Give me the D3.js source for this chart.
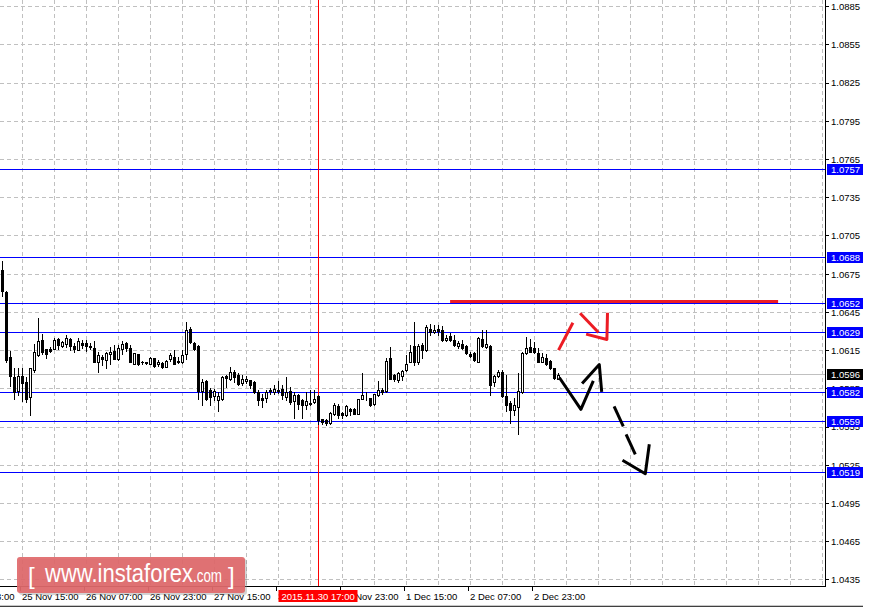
<!DOCTYPE html>
<html>
<head>
<meta charset="utf-8">
<script src="https://cdn.jsdelivr.net/npm/d3@7"></script>
<style>
body { margin: 0; background: #fff; }
svg { display: block; }
text { font-family: "Liberation Sans", Arial, sans-serif; }
</style>
</head>
<body>
<div id="chart"></div>
<script>
let width = 875,
height = 608,
plotW = 825,
plotH = 586;

// hourly bars, first bar = 25 Nov 10:00
let opens = [
1.06784, 1.06608, 1.06097, 1.05944, 1.05831, 1.05952, 1.05905, 1.05787, 1.05997, 1.06115,
1.06233, 1.06160, 1.06160, 1.06164, 1.06238, 1.06188, 1.06204, 1.06238, 1.06185, 1.06154,
1.06207, 1.06207, 1.06185, 1.06167, 1.06057, 1.06097, 1.06075, 1.06120, 1.06148, 1.06083,
1.06162, 1.06207, 1.06167, 1.06049, 1.06122, 1.06062, 1.06060, 1.06049, 1.06089, 1.06044,
1.06054, 1.06023, 1.06081, 1.06097, 1.06070, 1.06057, 1.06120, 1.06319, 1.06211, 1.06185,
1.05834, 1.05910, 1.05839, 1.05792, 1.05764, 1.05774, 1.05949, 1.05931, 1.05983, 1.05957,
1.05897, 1.05910, 1.05918, 1.05905, 1.05826, 1.05779, 1.05782, 1.05831, 1.05826, 1.05839,
1.05850, 1.05787, 1.05831, 1.05752, 1.05800, 1.05761, 1.05727, 1.05735, 1.05747, 1.05792,
1.05611, 1.05603, 1.05585, 1.05651, 1.05716, 1.05659, 1.05644, 1.05695, 1.05695, 1.05656,
1.05774, 1.05792, 1.05779, 1.05735, 1.05800, 1.05839, 1.05831, 1.06089, 1.05957, 1.05923,
1.05952, 1.05997, 1.06062, 1.06185, 1.06062, 1.06193, 1.06154, 1.06319, 1.06293, 1.06319,
1.06311, 1.06230, 1.06267, 1.06233, 1.06188, 1.06201, 1.06188, 1.06120, 1.06128, 1.06062,
1.06241, 1.06180, 1.06188, 1.05900, 1.05952, 1.05983, 1.05794, 1.05742, 1.05687, 1.05708,
1.05826, 1.06128, 1.06180, 1.06167, 1.06128, 1.06062, 1.06093, 1.06067, 1.06010, 1.05931
];
let highs = [
1.06854, 1.06618, 1.06148, 1.06015, 1.06012, 1.06010, 1.05944, 1.06012, 1.06199, 1.06404,
1.06278, 1.06162, 1.06180, 1.06246, 1.06246, 1.06227, 1.06270, 1.06246, 1.06207, 1.06246,
1.06233, 1.06233, 1.06207, 1.06225, 1.06141, 1.06115, 1.06141, 1.06180, 1.06193, 1.06193,
1.06225, 1.06215, 1.06193, 1.06133, 1.06126, 1.06070, 1.06062, 1.06101, 1.06093, 1.06075,
1.06062, 1.06075, 1.06133, 1.06154, 1.06101, 1.06154, 1.06377, 1.06337, 1.06219, 1.06193,
1.05931, 1.05918, 1.05853, 1.05845, 1.05826, 1.05949, 1.05957, 1.06023, 1.05997, 1.05971,
1.05957, 1.05949, 1.05922, 1.05910, 1.05839, 1.05813, 1.05839, 1.05860, 1.05879, 1.05912,
1.05879, 1.05944, 1.05865, 1.05822, 1.05813, 1.05774, 1.05826, 1.05839, 1.05839, 1.05800,
1.05616, 1.05611, 1.05668, 1.05742, 1.05735, 1.05668, 1.05721, 1.05700, 1.05700, 1.05774,
1.05971, 1.05826, 1.05782, 1.05813, 1.05910, 1.05857, 1.06089, 1.06180, 1.05963, 1.05983,
1.05997, 1.06115, 1.06193, 1.06372, 1.06199, 1.06207, 1.06351, 1.06356, 1.06351, 1.06351,
1.06346, 1.06272, 1.06285, 1.06272, 1.06225, 1.06233, 1.06193, 1.06136, 1.06136, 1.06259,
1.06311, 1.06311, 1.06193, 1.05957, 1.05997, 1.05997, 1.05957, 1.05752, 1.05779, 1.05971,
1.06136, 1.06259, 1.06241, 1.06219, 1.06167, 1.06128, 1.06120, 1.06075, 1.06015, 1.05971
];
let lows = [
1.06581, 1.06057, 1.05873, 1.05768, 1.05800, 1.05753, 1.05747, 1.05648, 1.05979, 1.06107,
1.06120, 1.06089, 1.06141, 1.06160, 1.06160, 1.06180, 1.06180, 1.06154, 1.06141, 1.06152,
1.06167, 1.06148, 1.06160, 1.06057, 1.05983, 1.06036, 1.06010, 1.06049, 1.06081, 1.06078,
1.06125, 1.06146, 1.06057, 1.06044, 1.06036, 1.06049, 1.06049, 1.06044, 1.06023, 1.06028,
1.06010, 1.06018, 1.06070, 1.06044, 1.06054, 1.06054, 1.06081, 1.06207, 1.06154, 1.05774,
1.05721, 1.05764, 1.05721, 1.05761, 1.05676, 1.05764, 1.05865, 1.05923, 1.05905, 1.05879,
1.05879, 1.05897, 1.05860, 1.05818, 1.05727, 1.05705, 1.05747, 1.05813, 1.05813, 1.05818,
1.05768, 1.05761, 1.05735, 1.05621, 1.05695, 1.05621, 1.05695, 1.05721, 1.05742, 1.05577,
1.05577, 1.05569, 1.05577, 1.05644, 1.05618, 1.05618, 1.05637, 1.05644, 1.05651, 1.05651,
1.05768, 1.05761, 1.05716, 1.05727, 1.05794, 1.05813, 1.05826, 1.05926, 1.05910, 1.05900,
1.05918, 1.05989, 1.06057, 1.06041, 1.06049, 1.06089, 1.06146, 1.06272, 1.06285, 1.06272,
1.06225, 1.06225, 1.06225, 1.06188, 1.06167, 1.06162, 1.06120, 1.06101, 1.06070, 1.06057,
1.06180, 1.06172, 1.05800, 1.05873, 1.05944, 1.05787, 1.05674, 1.05585, 1.05644, 1.05498,
1.05821, 1.06120, 1.06136, 1.06128, 1.06057, 1.06057, 1.06041, 1.06004, 1.05931, 1.05926
];
let closes = [
1.06621, 1.06075, 1.05952, 1.05826, 1.05952, 1.05897, 1.05774, 1.06010, 1.06136, 1.06225,
1.06141, 1.06125, 1.06148, 1.06233, 1.06193, 1.06219, 1.06246, 1.06188, 1.06160, 1.06225,
1.06193, 1.06188, 1.06182, 1.06062, 1.06115, 1.06083, 1.06128, 1.06136, 1.06083, 1.06167,
1.06199, 1.06172, 1.06062, 1.06128, 1.06044, 1.06060, 1.06056, 1.06093, 1.06028, 1.06062,
1.06018, 1.06070, 1.06115, 1.06049, 1.06057, 1.06115, 1.06311, 1.06219, 1.06160, 1.05834,
1.05905, 1.05774, 1.05787, 1.05834, 1.05792, 1.05944, 1.05936, 1.05979, 1.05944, 1.05886,
1.05931, 1.05931, 1.05879, 1.05826, 1.05761, 1.05764, 1.05826, 1.05839, 1.05847, 1.05834,
1.05798, 1.05822, 1.05747, 1.05800, 1.05735, 1.05727, 1.05752, 1.05737, 1.05774, 1.05603,
1.05590, 1.05582, 1.05664, 1.05721, 1.05644, 1.05644, 1.05714, 1.05674, 1.05656, 1.05768,
1.05800, 1.05792, 1.05727, 1.05808, 1.05839, 1.05826, 1.06067, 1.05931, 1.05926, 1.05971,
1.05989, 1.06049, 1.06136, 1.06062, 1.06188, 1.06154, 1.06337, 1.06293, 1.06311, 1.06306,
1.06233, 1.06251, 1.06235, 1.06193, 1.06207, 1.06167, 1.06128, 1.06109, 1.06075, 1.06246,
1.06188, 1.06199, 1.05879, 1.05949, 1.05979, 1.05794, 1.05721, 1.05682, 1.05721, 1.05831,
1.06128, 1.06167, 1.06141, 1.06141, 1.06062, 1.06101, 1.06049, 1.06010, 1.05936, 1.05957
];

let yTicks = [1.0435, 1.0465, 1.0495, 1.0525, 1.0555, 1.0585, 1.0615, 1.0645,
  1.0675, 1.0705, 1.0735, 1.0765, 1.0795, 1.0825, 1.0855, 1.0885];
let timeTicks = [-11, 5, 21, 37, 53, 69, 85, 101, 117, 133];
let timeLabels = ["24 Nov 23:00", "25 Nov 15:00", "26 Nov 07:00", "26 Nov 23:00", "27 Nov 15:00",
  "30 Nov 07:00", "30 Nov 23:00", "1 Dec 15:00", "2 Dec 07:00", "2 Dec 23:00"];
let levels = [1.0757, 1.0688, 1.0652, 1.0629, 1.0582, 1.0559, 1.0519];
let bid = 1.0596;
let cursorBar = 79,
cursorLabel = "2015.11.30 17:00";

// hand drawn marks, [bar, price]
let resistance = [[111.9, 1.06535], [193.9, 1.06535]];
let redMarks = [
  [[139.0, 1.06154], [142.6, 1.06369]],
  [[144.4, 1.06443], [149.0, 1.06293]],
  [[145.9, 1.06280], [151.1, 1.06238], [151.25, 1.06448]]
];
let blackMarks = [
  [[139.2, 1.05939], [144.6, 1.05689], [147.7, 1.05912]],
  [[144.9, 1.05892], [149.2, 1.06041], [149.8, 1.05826]],
  [[152.9, 1.05713], [155.2, 1.05556]],
  [[155.9, 1.05493], [158.2, 1.05336]],
  [[155.0, 1.05289], [160.7, 1.05184], [161.7, 1.05415]]
];

let bars = opens.map((o, i) => ({ i: i, o: o, h: highs[i], l: lows[i], c: closes[i] }));

let x = d3.scaleLinear()
.domain([0, 200])
.range([2.5, 802.5]);

let y = d3.scaleLinear()
.domain([1.0675, 1.0435])
.range([274.2, 579.96]);

let crisp = v => Math.floor(v) + 0.5;

let svg = d3.select("#chart")
.append("svg")
.attr("width", width)
.attr("height", height);

svg.append("defs").append("clipPath").attr("id", "plot")
.append("rect").attr("width", plotW).attr("height", plotH);

let plot = svg.append("g").attr("clip-path", "url(#plot)");

// grid
plot.selectAll(".hgrid")
.data(yTicks)
.enter().append("line")
.attr("x1", 0).attr("x2", plotW)
.attr("y1", d => crisp(y(d))).attr("y2", d => crisp(y(d)))
.attr("stroke", "#c0c0c0")
.attr("stroke-dasharray", "4,3");

plot.selectAll(".vgrid")
.data(d3.range(5, 206, 8))
.enter().append("line")
.attr("x1", d => x(d)).attr("x2", d => x(d))
.attr("y1", 0).attr("y2", plotH)
.attr("stroke", "#c0c0c0")
.attr("stroke-dasharray", "4,3");

plot.append("line")
.attr("x1", 0).attr("x2", plotW)
.attr("y1", crisp(y(bid))).attr("y2", crisp(y(bid)))
.attr("stroke", "#c0c0c0");

plot.selectAll(".level")
.data(levels)
.enter().append("line")
.attr("x1", 0).attr("x2", plotW)
.attr("y1", d => crisp(y(d))).attr("y2", d => crisp(y(d)))
.attr("stroke", "#0000ff");

plot.append("line")
.attr("x1", x(cursorBar)).attr("x2", x(cursorBar))
.attr("y1", 0).attr("y2", plotH)
.attr("stroke", "#ff0000");

// candles
let candle = plot.selectAll(".candle")
.data(bars)
.enter().append("g");

candle.append("line")
.attr("x1", d => x(d.i)).attr("x2", d => x(d.i))
.attr("y1", d => Math.round(y(d.h))).attr("y2", d => Math.round(y(d.l)) + 1)
.attr("stroke", "#000");

candle.each(function(d) {
  let t = Math.round(y(Math.max(d.o, d.c))),
  b = Math.round(y(Math.min(d.o, d.c)));
  if (d.c >= d.o) {
    d3.select(this).append("rect")
    .attr("x", x(d.i) - 1).attr("width", 2)
    .attr("y", t + 0.5).attr("height", Math.max(b - t, 0))
    .attr("fill", "#fff").attr("stroke", "#000");
  } else {
    d3.select(this).append("rect")
    .attr("x", x(d.i) - 1.5).attr("width", 3)
    .attr("y", t).attr("height", b - t + 1)
    .attr("fill", "#000");
  }
});

let line = d3.line().x(d => x(d[0])).y(d => y(d[1]));

plot.append("path")
.attr("d", line(resistance))
.attr("fill", "none")
.attr("stroke", "#ec1c24")
.attr("stroke-width", 3);

plot.selectAll(".red")
.data(redMarks)
.enter().append("path")
.attr("d", line)
.attr("fill", "none")
.attr("stroke", "#ec1c24")
.attr("stroke-width", 3)
.attr("stroke-linejoin", "round");

plot.selectAll(".black")
.data(blackMarks)
.enter().append("path")
.attr("d", line)
.attr("fill", "none")
.attr("stroke", "#000")
.attr("stroke-width", 3)
.attr("stroke-linejoin", "round");

// right axis
svg.append("line")
.attr("x1", plotW + 0.5).attr("x2", plotW + 0.5)
.attr("y1", 0).attr("y2", plotH + 1)
.attr("stroke", "#000");

svg.selectAll(".ytick")
.data(yTicks)
.enter().append("line")
.attr("x1", plotW).attr("x2", plotW + 4)
.attr("y1", d => crisp(y(d))).attr("y2", d => crisp(y(d)))
.attr("stroke", "#000");

svg.selectAll(".ylabel")
.data(yTicks)
.enter().append("text")
.attr("x", 831)
.attr("y", d => Math.max(y(d), 5))
.attr("dy", "0.35em")
.attr("font-size", "9.5px")
.attr("fill", "#000")
.text(d => d.toFixed(4));

let tags = levels.map(v => ({ v: v, bg: "#0000ff" })).concat([{ v: bid, bg: "#000" }]);

let tag = svg.selectAll(".tag")
.data(tags)
.enter().append("g");

tag.append("rect")
.attr("x", 827).attr("width", 36)
.attr("y", d => Math.floor(y(d.v)) - 5).attr("height", 11)
.attr("fill", d => d.bg);

tag.append("text")
.attr("x", 831)
.attr("y", d => Math.floor(y(d.v)) + 0.5)
.attr("dy", "0.35em")
.attr("font-size", "9.5px")
.attr("fill", "#fff")
.text(d => d.v.toFixed(4));

// bottom axis
svg.append("line")
.attr("x1", 0).attr("x2", plotW + 1)
.attr("y1", plotH + 0.5).attr("y2", plotH + 0.5)
.attr("stroke", "#000");

svg.selectAll(".xtick")
.data(timeTicks)
.enter().append("line")
.attr("x1", d => x(d) - 2).attr("x2", d => x(d) - 2)
.attr("y1", plotH).attr("y2", plotH + 5)
.attr("stroke", "#000");

svg.selectAll(".xlabel")
.data(timeTicks)
.enter().append("text")
.attr("x", d => x(d) - 0.5)
.attr("y", 600)
.attr("font-size", "9.5px")
.attr("fill", "#000")
.text((d, i) => timeLabels[i]);

svg.append("rect")
.attr("x", x(cursorBar) - 40).attr("width", 79)
.attr("y", 590).attr("height", 12)
.attr("fill", "#ff0000");

svg.append("text")
.attr("x", x(cursorBar) - 37)
.attr("y", 600)
.attr("font-size", "9.5px")
.attr("fill", "#fff")
.text(cursorLabel);

svg.append("line")
.attr("x1", 0).attr("x2", 863)
.attr("y1", 605.5).attr("y2", 605.5)
.attr("stroke", "#c8c8c8");

svg.append("line")
.attr("x1", 0).attr("x2", 863)
.attr("y1", 606.5).attr("y2", 606.5)
.attr("stroke", "#404040");

// watermark
let mark = svg.append("g");

mark.append("rect")
.attr("x", 19).attr("y", 559)
.attr("width", 228).attr("height", 36)
.attr("rx", 3)
.attr("fill", "#808080")
.attr("opacity", 0.35);

mark.append("rect")
.attr("x", 17).attr("y", 557)
.attr("width", 228).attr("height", 36)
.attr("rx", 3)
.attr("fill", "#e0686a")
.attr("opacity", 0.92);

mark.append("text")
.attr("x", 28).attr("y", 584)
.attr("font-size", "24px")
.attr("fill", "#fff")
.text("[");

mark.append("text")
.attr("x", 45).attr("y", 582)
.attr("font-size", "25px")
.attr("textLength", 148)
.attr("lengthAdjust", "spacingAndGlyphs")
.attr("fill", "#fff")
.text("www.instaforex");

mark.append("text")
.attr("x", 193).attr("y", 582)
.attr("font-size", "18px")
.attr("textLength", 29)
.attr("lengthAdjust", "spacingAndGlyphs")
.attr("fill", "#fff")
.text(".com");

mark.append("text")
.attr("x", 228).attr("y", 584)
.attr("font-size", "24px")
.attr("fill", "#fff")
.text("]");
</script>
</body>
</html>
